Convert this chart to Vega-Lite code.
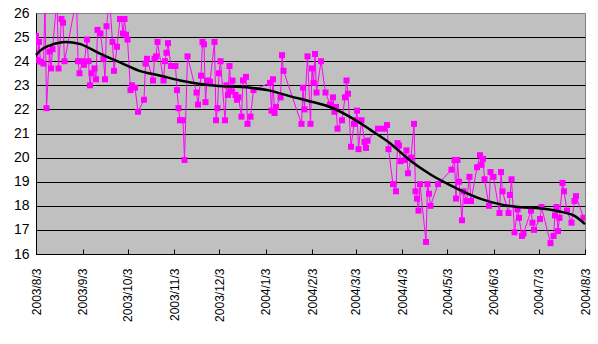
{
  "$schema": "https://vega.github.io/schema/vega-lite/v6.json",
  "width": 549,
  "height": 241,
  "autosize": {"type": "none"},
  "padding": {"left": 36, "top": 13, "right": 13, "bottom": 90},
  "background": "white",
  "config": {
    "view": {"fill": "#C0C0C0", "stroke": "#808080", "strokeWidth": 1},
    "axis": {"labelFont": "Liberation Sans", "labelColor": "black", "domainColor": "black", "tickColor": "black"}
  },
  "datasets": {
    "obs": [
      {"date": "2003/08/03", "value": 25.05},
      {"date": "2003/08/04", "value": 24.05},
      {"date": "2003/08/05", "value": 24.8},
      {"date": "2003/08/06", "value": 23.98},
      {"date": "2003/08/08", "value": 23.9},
      {"date": "2003/08/09", "value": 26.6},
      {"date": "2003/08/10", "value": 22.05},
      {"date": "2003/08/12", "value": 24.4},
      {"date": "2003/08/13", "value": 23.7},
      {"date": "2003/08/14", "value": 24.5},
      {"date": "2003/08/17", "value": 26.6},
      {"date": "2003/08/18", "value": 23.7},
      {"date": "2003/08/20", "value": 25.75},
      {"date": "2003/08/21", "value": 25.6},
      {"date": "2003/08/22", "value": 24.0},
      {"date": "2003/08/30", "value": 26.6},
      {"date": "2003/08/31", "value": 24.0},
      {"date": "2003/09/01", "value": 23.5},
      {"date": "2003/09/03", "value": 24.0},
      {"date": "2003/09/04", "value": 23.85},
      {"date": "2003/09/06", "value": 24.9},
      {"date": "2003/09/07", "value": 24.0},
      {"date": "2003/09/08", "value": 23.0},
      {"date": "2003/09/09", "value": 23.5},
      {"date": "2003/09/11", "value": 23.7},
      {"date": "2003/09/12", "value": 23.25},
      {"date": "2003/09/13", "value": 25.3},
      {"date": "2003/09/15", "value": 25.15},
      {"date": "2003/09/17", "value": 24.1},
      {"date": "2003/09/18", "value": 23.25},
      {"date": "2003/09/19", "value": 25.45},
      {"date": "2003/09/21", "value": 26.6},
      {"date": "2003/09/23", "value": 24.8},
      {"date": "2003/09/24", "value": 23.6},
      {"date": "2003/09/26", "value": 24.6},
      {"date": "2003/09/28", "value": 25.75},
      {"date": "2003/09/29", "value": 25.75},
      {"date": "2003/09/30", "value": 25.15},
      {"date": "2003/10/01", "value": 25.75},
      {"date": "2003/10/02", "value": 25.1},
      {"date": "2003/10/03", "value": 24.9},
      {"date": "2003/10/05", "value": 22.8},
      {"date": "2003/10/06", "value": 23.0},
      {"date": "2003/10/08", "value": 22.9},
      {"date": "2003/10/10", "value": 21.9},
      {"date": "2003/10/14", "value": 22.4},
      {"date": "2003/10/15", "value": 23.9},
      {"date": "2003/10/16", "value": 24.1},
      {"date": "2003/10/20", "value": 23.2},
      {"date": "2003/10/21", "value": 24.1},
      {"date": "2003/10/22", "value": 24.2},
      {"date": "2003/10/23", "value": 24.8},
      {"date": "2003/10/27", "value": 23.2},
      {"date": "2003/10/28", "value": 24.0},
      {"date": "2003/10/29", "value": 24.35},
      {"date": "2003/10/30", "value": 24.75},
      {"date": "2003/11/01", "value": 23.8},
      {"date": "2003/11/02", "value": 23.8},
      {"date": "2003/11/04", "value": 23.8},
      {"date": "2003/11/05", "value": 22.8},
      {"date": "2003/11/06", "value": 22.05},
      {"date": "2003/11/07", "value": 21.55},
      {"date": "2003/11/09", "value": 21.55},
      {"date": "2003/11/10", "value": 19.9},
      {"date": "2003/11/12", "value": 24.2},
      {"date": "2003/11/18", "value": 22.7},
      {"date": "2003/11/19", "value": 22.2},
      {"date": "2003/11/21", "value": 23.4},
      {"date": "2003/11/22", "value": 24.8},
      {"date": "2003/11/23", "value": 24.7},
      {"date": "2003/11/24", "value": 22.3},
      {"date": "2003/11/25", "value": 23.2},
      {"date": "2003/11/27", "value": 23.15},
      {"date": "2003/11/30", "value": 24.8},
      {"date": "2003/12/01", "value": 21.55},
      {"date": "2003/12/02", "value": 22.05},
      {"date": "2003/12/03", "value": 23.5},
      {"date": "2003/12/04", "value": 24.0},
      {"date": "2003/12/07", "value": 21.55},
      {"date": "2003/12/08", "value": 23.0},
      {"date": "2003/12/09", "value": 22.6},
      {"date": "2003/12/10", "value": 23.8},
      {"date": "2003/12/11", "value": 22.75},
      {"date": "2003/12/12", "value": 23.2},
      {"date": "2003/12/14", "value": 22.6},
      {"date": "2003/12/15", "value": 22.4},
      {"date": "2003/12/16", "value": 22.5},
      {"date": "2003/12/18", "value": 21.7},
      {"date": "2003/12/19", "value": 23.2},
      {"date": "2003/12/21", "value": 23.35},
      {"date": "2003/12/22", "value": 21.4},
      {"date": "2003/12/24", "value": 21.7},
      {"date": "2003/12/26", "value": 22.8},
      {"date": "2004/01/06", "value": 23.1},
      {"date": "2004/01/07", "value": 21.95},
      {"date": "2004/01/08", "value": 23.25},
      {"date": "2004/01/09", "value": 21.85},
      {"date": "2004/01/10", "value": 22.1},
      {"date": "2004/01/13", "value": 22.5},
      {"date": "2004/01/14", "value": 24.25},
      {"date": "2004/01/15", "value": 23.6},
      {"date": "2004/01/27", "value": 21.4},
      {"date": "2004/01/28", "value": 22.9},
      {"date": "2004/01/29", "value": 22.0},
      {"date": "2004/01/31", "value": 24.2},
      {"date": "2004/02/02", "value": 21.4},
      {"date": "2004/02/03", "value": 23.7},
      {"date": "2004/02/04", "value": 23.1},
      {"date": "2004/02/05", "value": 24.3},
      {"date": "2004/02/06", "value": 22.7},
      {"date": "2004/02/09", "value": 24.0},
      {"date": "2004/02/12", "value": 22.7},
      {"date": "2004/02/15", "value": 22.2},
      {"date": "2004/02/17", "value": 22.5},
      {"date": "2004/02/18", "value": 21.9},
      {"date": "2004/02/19", "value": 22.1},
      {"date": "2004/02/20", "value": 21.2},
      {"date": "2004/02/23", "value": 21.55},
      {"date": "2004/02/25", "value": 22.5},
      {"date": "2004/02/26", "value": 23.2},
      {"date": "2004/02/27", "value": 22.65},
      {"date": "2004/02/29", "value": 20.45},
      {"date": "2004/03/02", "value": 21.4},
      {"date": "2004/03/03", "value": 21.55},
      {"date": "2004/03/04", "value": 21.95},
      {"date": "2004/03/05", "value": 20.35},
      {"date": "2004/03/07", "value": 21.55},
      {"date": "2004/03/09", "value": 20.65},
      {"date": "2004/03/10", "value": 20.4},
      {"date": "2004/03/11", "value": 20.7},
      {"date": "2004/03/18", "value": 21.2},
      {"date": "2004/03/22", "value": 21.2},
      {"date": "2004/03/24", "value": 21.35},
      {"date": "2004/03/25", "value": 20.35},
      {"date": "2004/03/28", "value": 18.9},
      {"date": "2004/03/30", "value": 18.6},
      {"date": "2004/03/31", "value": 20.6},
      {"date": "2004/04/01", "value": 20.5},
      {"date": "2004/04/02", "value": 19.85},
      {"date": "2004/04/05", "value": 19.9},
      {"date": "2004/04/06", "value": 20.3},
      {"date": "2004/04/07", "value": 19.35},
      {"date": "2004/04/09", "value": 20.0},
      {"date": "2004/04/11", "value": 21.4},
      {"date": "2004/04/12", "value": 18.6},
      {"date": "2004/04/13", "value": 18.3},
      {"date": "2004/04/14", "value": 17.8},
      {"date": "2004/04/15", "value": 18.9},
      {"date": "2004/04/19", "value": 16.5},
      {"date": "2004/04/20", "value": 18.9},
      {"date": "2004/04/21", "value": 18.5},
      {"date": "2004/04/22", "value": 18.0},
      {"date": "2004/04/27", "value": 18.9},
      {"date": "2004/05/06", "value": 19.5},
      {"date": "2004/05/08", "value": 19.9},
      {"date": "2004/05/09", "value": 18.3},
      {"date": "2004/05/10", "value": 19.9},
      {"date": "2004/05/11", "value": 19.0},
      {"date": "2004/05/13", "value": 17.4},
      {"date": "2004/05/14", "value": 18.6},
      {"date": "2004/05/16", "value": 18.2},
      {"date": "2004/05/18", "value": 19.2},
      {"date": "2004/05/19", "value": 18.2},
      {"date": "2004/05/23", "value": 19.6},
      {"date": "2004/05/25", "value": 20.1},
      {"date": "2004/05/26", "value": 19.7},
      {"date": "2004/05/27", "value": 19.95},
      {"date": "2004/05/28", "value": 19.1},
      {"date": "2004/05/31", "value": 18.0},
      {"date": "2004/06/01", "value": 19.4},
      {"date": "2004/06/03", "value": 19.2},
      {"date": "2004/06/07", "value": 17.7},
      {"date": "2004/06/08", "value": 19.4},
      {"date": "2004/06/09", "value": 18.6},
      {"date": "2004/06/13", "value": 17.7},
      {"date": "2004/06/14", "value": 18.45},
      {"date": "2004/06/15", "value": 19.1},
      {"date": "2004/06/17", "value": 16.9},
      {"date": "2004/06/19", "value": 17.85},
      {"date": "2004/06/20", "value": 17.5},
      {"date": "2004/06/22", "value": 16.75},
      {"date": "2004/06/23", "value": 16.85},
      {"date": "2004/06/28", "value": 17.8},
      {"date": "2004/06/29", "value": 17.3},
      {"date": "2004/06/30", "value": 17.0},
      {"date": "2004/07/04", "value": 17.45},
      {"date": "2004/07/05", "value": 17.95},
      {"date": "2004/07/11", "value": 16.45},
      {"date": "2004/07/13", "value": 16.75},
      {"date": "2004/07/14", "value": 17.6},
      {"date": "2004/07/15", "value": 17.95},
      {"date": "2004/07/16", "value": 16.95},
      {"date": "2004/07/17", "value": 17.5},
      {"date": "2004/07/19", "value": 18.95},
      {"date": "2004/07/20", "value": 18.6},
      {"date": "2004/07/22", "value": 17.8},
      {"date": "2004/07/25", "value": 17.3},
      {"date": "2004/07/27", "value": 18.2},
      {"date": "2004/07/28", "value": 18.4},
      {"date": "2004/08/02", "value": 17.5}
    ],
    "trend": [
      {"date": "2003/08/03", "value": 24.25},
      {"date": "2003/08/06", "value": 24.45},
      {"date": "2003/08/12", "value": 24.65},
      {"date": "2003/08/23", "value": 24.8},
      {"date": "2003/09/01", "value": 24.72},
      {"date": "2003/09/15", "value": 24.3},
      {"date": "2003/09/28", "value": 23.95},
      {"date": "2003/10/11", "value": 23.6},
      {"date": "2003/10/25", "value": 23.4},
      {"date": "2003/11/07", "value": 23.2},
      {"date": "2003/11/27", "value": 23.0},
      {"date": "2003/12/24", "value": 22.9},
      {"date": "2004/01/06", "value": 22.78},
      {"date": "2004/01/19", "value": 22.55},
      {"date": "2004/02/02", "value": 22.33},
      {"date": "2004/02/15", "value": 22.1},
      {"date": "2004/02/28", "value": 21.7},
      {"date": "2004/03/13", "value": 21.15},
      {"date": "2004/03/26", "value": 20.6},
      {"date": "2004/04/08", "value": 19.9},
      {"date": "2004/04/22", "value": 19.3},
      {"date": "2004/05/05", "value": 18.86},
      {"date": "2004/05/25", "value": 18.3},
      {"date": "2004/06/07", "value": 18.07},
      {"date": "2004/06/21", "value": 17.94},
      {"date": "2004/07/04", "value": 17.9},
      {"date": "2004/07/17", "value": 17.76},
      {"date": "2004/07/27", "value": 17.58},
      {"date": "2004/08/03", "value": 17.24}
    ]
  },
  "encoding": {
    "x": {
      "field": "date",
      "type": "temporal",
      "scale": {"domain": [{"year": 2003, "month": 8, "date": 3}, {"year": 2004, "month": 8, "date": 3}]},
      "axis": {
        "values": [
          {"year": 2003, "month": 8, "date": 3},
          {"year": 2003, "month": 9, "date": 3},
          {"year": 2003, "month": 10, "date": 3},
          {"year": 2003, "month": 11, "date": 3},
          {"year": 2003, "month": 12, "date": 3},
          {"year": 2004, "month": 1, "date": 3},
          {"year": 2004, "month": 2, "date": 3},
          {"year": 2004, "month": 3, "date": 3},
          {"year": 2004, "month": 4, "date": 3},
          {"year": 2004, "month": 5, "date": 3},
          {"year": 2004, "month": 6, "date": 3},
          {"year": 2004, "month": 7, "date": 3},
          {"year": 2004, "month": 8, "date": 3}
        ],
        "format": "%Y/%-m/%-d",
        "labelAngle": -90,
        "tickSize": -5,
        "labelPadding": 19,
        "grid": false,
        "title": null,
        "labelFontSize": 12,
        "labelOverlap": false,
        "labelBound": false,
        "labelFlush": false
      }
    },
    "y": {
      "field": "value",
      "type": "quantitative",
      "scale": {"domain": [16, 26], "nice": false, "zero": false},
      "axis": {
        "values": [16, 17, 18, 19, 20, 21, 22, 23, 24, 25, 26],
        "title": null,
        "ticks": false,
        "labelPadding": 7,
        "labelFontSize": 14,
        "grid": true,
        "gridColor": {"condition": {"test": "datum.value === 26", "value": "#808080"}, "value": "black"},
        "gridOpacity": 1,
        "labelFlush": false
      }
    }
  },
  "layer": [
    {"data": {"name": "obs"}, "mark": {"type": "line", "color": "#FF00FF", "strokeWidth": 1, "clip": true}},
    {"data": {"name": "obs"}, "mark": {"type": "point", "shape": "square", "filled": true, "color": "#FF00FF", "size": 36, "opacity": 1, "clip": true}},
    {"data": {"name": "trend"}, "mark": {"type": "line", "color": "black", "strokeWidth": 2.5, "interpolate": "monotone"}}
  ]
}
